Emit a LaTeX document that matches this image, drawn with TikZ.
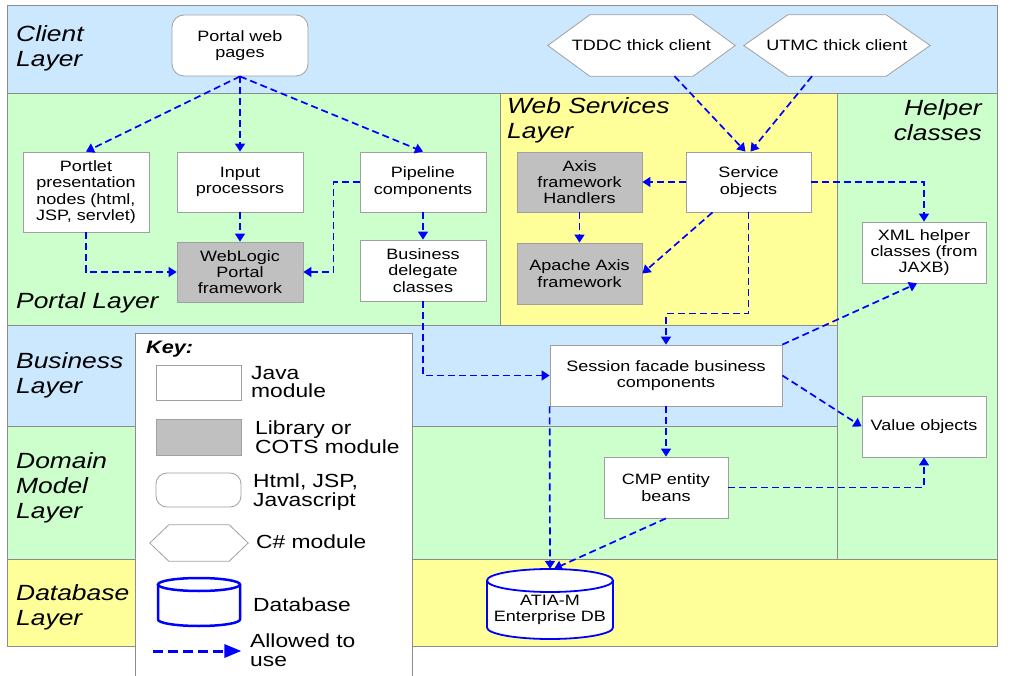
\documentclass[tikz,border=0pt]{standalone}
\usepackage{fontspec}
\setmainfont{Liberation Sans}[FakeStretch=1.2]
\usetikzlibrary{arrows.meta}

\definecolor{clientblue}{HTML}{CCE8FF}
\definecolor{tiergreen}{HTML}{CCFFCC}
\definecolor{tieryellow}{HTML}{FFFF99}
\definecolor{libgray}{HTML}{C0C0C0}
\definecolor{boxedge}{HTML}{A0A0A0}
\definecolor{tieredge}{HTML}{8C8C8C}
\definecolor{useblue}{HTML}{0000FF}

\pgfdeclarelayer{tiers}
\pgfdeclarelayer{outlines}
\pgfsetlayers{tiers,outlines,main}

\begin{document}
\begin{tikzpicture}[x=1pt, y=-1pt,
    every node/.style={font=\fontsize{15}{16.3}\selectfont, align=center, inner sep=0pt},
    tier/.style={draw=tieredge, line width=0.8pt},
    tiername/.style={font=\fontsize{22}{25}\selectfont\itshape, align=left, anchor=west},
    box/.style={draw=boxedge, fill=white, line width=0.8pt, minimum width=126, minimum height=61},
    libbox/.style={box, fill=libgray},
    hexa/.style={minimum width=187, minimum height=61},
    hexline/.style={draw=boxedge, fill=white, line width=0.8pt},
    dbline/.style={draw=useblue, fill=white, line width=1.8pt},
    keytext/.style={font=\fontsize{19}{18.6}\selectfont, align=left, anchor=west},
    allowed/.style={draw=useblue, line width=1.7pt, dash pattern=on 7pt off 4pt, -{Triangle[length=8pt,width=10pt]}}]
    \useasboundingbox (0,0) rectangle (1031,676);

    % Layers
    \begin{pgfonlayer}{tiers}
    \draw[tier, fill=clientblue] (7,5) rectangle (997,93);
    \draw[tier, fill=tiergreen] (7,93) rectangle (500,325);
    \draw[tier, fill=tieryellow] (500,93) rectangle (837,325);
    \draw[tier, fill=tiergreen] (837,93) rectangle (997,559);
    \draw[tier, fill=clientblue] (7,325) rectangle (837,426);
    \draw[tier, fill=tiergreen] (7,426) rectangle (837,559);
    \draw[tier, fill=tieryellow] (7,559) rectangle (997,646);
    % Key frame
    \fill[white] (135,333) rectangle (412,676);
    \draw[tier] (135,676) -- (135,333) -- (412,333) -- (412,676);
    \end{pgfonlayer}

    \node[tiername] (clientname) at (16,48) {Client\\Layer};
    \node[tiername] (portalname) at (16,303) {Portal Layer};
    \node[tiername] (wsname) at (507,120) {Web Services\\Layer};
    \node[tiername, anchor=east, align=right] (helpername) at (982,120) {Helper\\classes};
    \node[tiername] (busname) at (16,375.5) {Business\\Layer};
    \node[tiername] (domname) at (16,488) {Domain\\Model\\Layer};
    \node[tiername] (dbname) at (16,607) {Database\\Layer};

    % Client layer
    \node[box, rounded corners=12pt, minimum width=136] (pages) at (240,45.5) {Portal web\\pages};
    \node[hexa] (tddc) at (641.5,45.5) {TDDC thick client};
    \node[hexa, minimum width=186] (utmc) at (837,45.5) {UTMC thick client};

    % Portal layer
    \node[box, minimum height=80] (portlet) at (86,192) {Portlet\\presentation\\nodes (html,\\JSP, servlet)};
    \node[box, minimum height=60] (input) at (240,182) {Input\\processors};
    \node[box, minimum height=60] (pipe) at (423,182) {Pipeline\\components};
    \node[libbox, minimum height=60] (weblogic) at (240,272) {WebLogic\\Portal\\framework};
    \node[box] (delegate) at (423,270.5) {Business\\delegate\\classes};

    % Web services layer
    \node[libbox, minimum width=125, minimum height=60] (handlers) at (579.5,182) {Axis\\framework\\Handlers};
    \node[box, minimum width=125, minimum height=60] (service) at (748.5,182) {Service\\objects};
    \node[libbox, minimum width=125] (axis) at (579.5,273.5) {Apache Axis\\framework};

    % Helper classes
    \node[box, minimum width=124] (xml) at (924,252.5) {XML helper\\classes (from\\JAXB)};
    \node[box, minimum width=124] (value) at (924,426.5) {Value objects};

    % Business, domain and database layers
    \node[box, minimum width=232] (facade) at (666,375.5) {Session facade business\\components};
    \node[box, minimum width=124] (cmp) at (666,487.5) {CMP entity\\beans};
    \node[minimum width=126, minimum height=82] (atia) at (550,610) {ATIA-M\\Enterprise DB};

    % Key
    \node[anchor=west, font=\fontsize{18}{20}\selectfont\bfseries\itshape] (keytitle) at (146,349) {Key:};
    \node[box, minimum width=85, minimum height=35] (keyjava) at (198.5,382.5) {};
    \node[keytext] (keyjavatext) at (251,382) {Java\\module};
    \node[libbox, minimum width=85, minimum height=36] (keylib) at (198.5,437) {};
    \node[keytext] (keylibtext) at (255,437) {Library or\\COTS module};
    \node[box, rounded corners=11pt, minimum width=85, minimum height=34] (keyhtml) at (198.5,490) {};
    \node[keytext] (keyhtmltext) at (253,492) {Html, JSP,\\Javascript};
    \node[minimum width=98, minimum height=36] (keycs) at (199,543) {};
    \node[keytext] (keycstext) at (256,542) {C\# module};
    \node[minimum width=82, minimum height=48] (keydb) at (199,602) {};
    \node[keytext] (keydbtext) at (253,605) {Database};
    \node[keytext] (keyusetext) at (250,650) {Allowed to\\use};
    \coordinate (keyfrom) at (153,651);

    % Hexagons and cylinders
    \begin{pgfonlayer}{outlines}
    \foreach \hx/\cut in {tddc/42, utmc/44, keycs/19}
        \draw[hexline] (\hx.west) -- ([xshift=\cut]\hx.north west) -- ([xshift=-\cut]\hx.north east)
            -- (\hx.east) -- ([xshift=-\cut]\hx.south east) -- ([xshift=\cut]\hx.south west) -- cycle;
    \draw[dbline] (487,580.5) -- (487,627.5) arc[start angle=180, end angle=0, x radius=63, y radius=11.5] -- (613,580.5);
    \draw[dbline] (550,580.5) ellipse[x radius=63, y radius=11.5];
    \draw[dbline, line width=2.5pt] (158,584.5) -- (158,619.5) arc[start angle=180, end angle=0, x radius=41, y radius=6.5] -- (240,584.5);
    \draw[dbline, line width=2.5pt] (199,584.5) ellipse[x radius=41, y radius=6.5];
    \end{pgfonlayer}

    % Allowed to use
    \draw[allowed] (pages.south) -- (portlet.north);
    \draw[allowed] (pages.south) -- (input.north);
    \draw[allowed] (pages.south) -- (pipe.north);
    \draw[allowed] (input.south) -- (weblogic.north);
    \draw[allowed] (portlet.south) |- (weblogic.west);
    \draw[allowed] (pipe.west) -- ++(-26,0) |- (weblogic.east);
    \draw[allowed] (pipe.south) -- (delegate.north);
    \draw[allowed] (delegate.south) |- (facade.west);
    \draw[allowed] ([xshift=33]tddc.south) -- ([xshift=-3]service.north);
    \draw[allowed] ([xshift=-25]utmc.south) -- ([xshift=2]service.north);
    \draw[allowed] (service.west) -- (handlers.east);
    \draw[allowed] (handlers.south) -- (axis.north);
    \draw[allowed] ([xshift=-36]service.south) -- (axis.east);
    \draw[allowed] (service.south) -- ++(0,101) -| (facade.north);
    \draw[allowed] (service.east) -| (xml.north);
    \draw[allowed] (facade.north east) -- ([xshift=-7]xml.south);
    \draw[allowed] (facade.east) -- (value.west);
    \draw[allowed] (facade.south) -- (cmp.north);
    \draw[allowed] (cmp.east) -| (value.south);
    \draw[allowed] (cmp.south) -- ([xshift=4]atia.north);
    \draw[allowed] (facade.south west) -- (atia.north);
    \draw[allowed, line width=3pt, dash pattern=on 10pt off 5pt, -{Triangle[length=17pt,width=13pt]}] (keyfrom) -- (keyhtml.south east |- keyfrom);
\end{tikzpicture}
\end{document}
